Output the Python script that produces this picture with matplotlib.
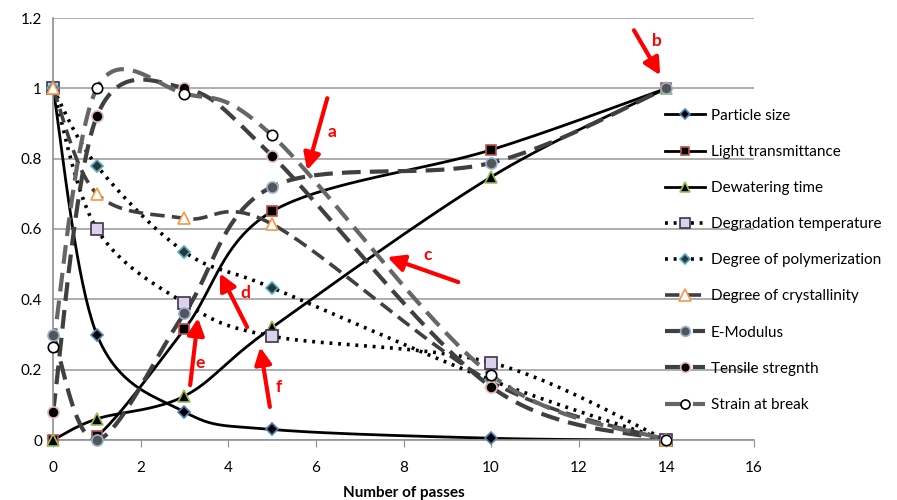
import numpy as np
import matplotlib
matplotlib.use("Agg")
import matplotlib.pyplot as plt

plt.rcParams['font.family'] = ['Lato', 'DejaVu Sans']

# dati
passes = [0, 1, 3, 5, 10, 14]
particle_size = [1.0, 0.30, 0.08, 0.03, 0.005, 0.0]
light_trans = [0.0, 0.01, 0.315, 0.65, 0.825, 1.0]
dewatering = [0.0, 0.06, 0.125, 0.32, 0.748, 1.0]
degr_temp = [1.0, 0.60, 0.39, 0.295, 0.22, 0.0]
degr_polym = [1.0, 0.78, 0.535, 0.433, 0.17, 0.0]
degr_cryst = [1.0, 0.70, 0.63, 0.614, 0.165, 0.0]
e_modulus = [0.30, 0.0, 0.36, 0.72, 0.788, 1.0]
tensile = [0.08, 0.92, 1.0, 0.808, 0.151, 0.0]
strain = [0.265, 1.0, 0.985, 0.866, 0.185, 0.0]

labels = ["Particle size", "Light transmittance", "Dewatering time",
          "Degradation temperature", "Degree of polymerization",
          "Degree of crystallinity", "E-Modulus", "Tensile stregnth",
          "Strain at break"]
series = [particle_size, light_trans, dewatering, degr_temp, degr_polym,
          degr_cryst, e_modulus, tensile, strain]

# stile: (colore linea, stile, spessore, marker, faccia, bordo, dimensione)
styles = [
    ("black", "-", 2.0, "D", "black", "#4f81bd", 6),
    ("black", "-", 2.0, "s", "black", "#c0504d", 6.5),
    ("black", "-", 2.0, "^", "black", "#9bbb59", 8),
    ("black", (0, (0.8, 1.6)), 2.6, "s", "#d9d2e9", "#403151", 8),
    ("black", (0, (0.8, 1.6)), 2.6, "D", "#333333", "#4bacc6", 6.5),
    ("#404040", (0, (4, 2)), 2.6, "^", "white", "#f79646", 9),
    ("#404040", (0, (4.5, 2.2)), 3.0, "o", "#555555", "#95b3d7", 8),
    ("#404040", (0, (4.5, 2.2)), 3.0, "o", "black", "#e6b9b8", 8),
    ("#666666", (0, (4.5, 2.2)), 3.0, "o", "white", "black", 7.5),
]

SX, SY = 43.8, 352.0  # px per unita' (per smussare come excel)


def smooth(xs, ys, n=40):
    p = np.column_stack([np.array(xs) * SX, np.array(ys) * SY])
    pts = np.vstack([p[0], p, p[-1]])
    out = []
    t = np.linspace(0, 1, n)[:, None]
    for i in range(1, len(pts) - 2):
        p0, p1, p2, p3 = pts[i - 1], pts[i], pts[i + 1], pts[i + 2]
        c1 = p1 + (p2 - p0) / 6
        c2 = p2 - (p3 - p1) / 6
        b = ((1 - t) ** 3) * p1 + 3 * ((1 - t) ** 2) * t * c1 + 3 * (1 - t) * t ** 2 * c2 + t ** 3 * p2
        out.append(b)
    out = np.vstack(out)
    return out[:, 0] / SX, out[:, 1] / SY


fig = plt.figure(figsize=(8.97, 5), dpi=100)
ax = fig.add_axes([0.0591, 0.12, 0.7815, 0.844])

for lab, ys, st in zip(labels, series, styles):
    col, ls, lw, mk, fc, ec, ms = st
    sx, sy = smooth(passes, ys)
    ax.plot(sx, sy, color=col, linestyle=ls, linewidth=lw, zorder=2)
    ax.plot(passes, ys, linestyle="none", marker=mk, markerfacecolor=fc,
            markeredgecolor=ec, markersize=ms, markeredgewidth=1.2, zorder=3,
            clip_on=False)
    # voce della legenda
    ax.plot([], [], color=col, linestyle=ls, linewidth=lw, marker=mk,
            markerfacecolor=fc, markeredgecolor=ec, markersize=ms - 1,
            markeredgewidth=1.2, label=lab)

ax.set_xlim(0, 16)
ax.set_ylim(0, 1.2)
ax.set_xticks(np.arange(0, 17, 2))
ax.set_yticks([0, 0.2, 0.4, 0.6, 0.8, 1, 1.2])
ax.set_yticklabels(["0", "0.2", "0.4", "0.6", "0.8", "1", "1.2"])
ax.yaxis.grid(True, color="#a0a0a0", linewidth=1.2)
ax.set_axisbelow(True)
for s in ["top", "right"]:
    ax.spines[s].set_visible(False)
ax.spines["left"].set_color("#909090")
ax.spines["bottom"].set_color("#909090")
ax.spines["left"].set_linewidth(1.2)
ax.spines["bottom"].set_linewidth(1.2)
ax.tick_params(axis="x", direction="out", length=5, color="#909090",
               labelsize=11, pad=10)
ax.tick_params(axis="y", length=0, labelsize=11, pad=8)
ax.set_xlabel("Number of passes", fontsize=11, fontweight="bold", labelpad=8)

leg = ax.legend(loc="upper left", bbox_to_anchor=(0.873, 0.785), frameon=False,
                fontsize=11, handlelength=2.6, labelspacing=1.45,
                handletextpad=0.4, borderaxespad=0, borderpad=0)
leg.set_zorder(5)

# frecce rosse
arrows = [
    ("a", (6.26, 0.972), (5.80, 0.767), (6.38, 0.875)),
    ("b", (13.26, 1.165), (13.86, 1.037), (13.78, 1.136)),
    ("c", (9.25, 0.449), (7.63, 0.520), (8.56, 0.526)),
    ("d", (4.43, 0.321), (3.81, 0.474), (4.40, 0.418)),
    ("e", (3.13, 0.156), (3.31, 0.347), (3.36, 0.219)),
    ("f", (4.95, 0.094), (4.73, 0.264), (5.16, 0.151)),
]
for lab, tail, tip, txt in arrows:
    ax.annotate("", xy=tip, xytext=tail, zorder=6,
                arrowprops=dict(arrowstyle="-|>,head_length=1.0,head_width=0.5",
                                color="#ff0000", lw=3, shrinkA=0, shrinkB=0))
    ax.text(txt[0], txt[1], lab, color="#ff0000", fontsize=12.5,
            fontweight="bold", ha="center", va="center", zorder=6)

fig.savefig("out.png", dpi=100)
